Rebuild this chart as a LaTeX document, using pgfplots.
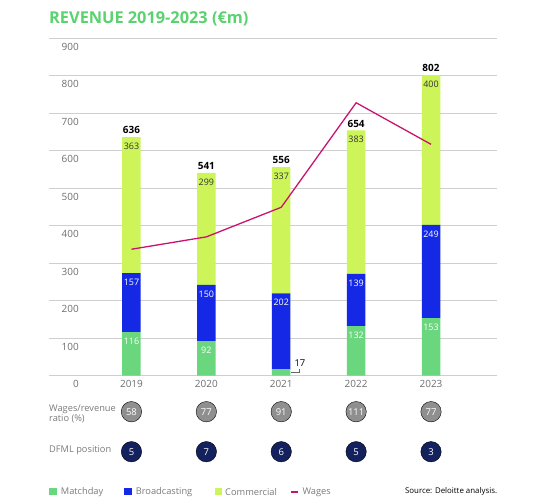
\documentclass[border=0pt]{standalone}
\usepackage{pgfplots}
\pgfplotsset{compat=1.18}
\usepackage{fontspec}
\setmainfont{Open Sans}
\definecolor{cMatch}{HTML}{6AD67E}
\definecolor{cBroad}{HTML}{1428E6}
\definecolor{cComm}{HTML}{CDF55A}
\definecolor{cWage}{HTML}{C8146E}
\definecolor{cTitle}{HTML}{5AD26E}
\definecolor{cGrid}{HTML}{CFCFCF}
\definecolor{cTick}{HTML}{6E6E6E}
\definecolor{cText}{HTML}{7A7A7A}
\definecolor{cCirc}{HTML}{8F8F8F}
\definecolor{cNavy}{HTML}{13215E}
\begin{document}
\begin{tikzpicture}
\path[use as bounding box] (0,0) rectangle (551bp,-500bp);
\pgfplotsset{
  base/.style={at={(49bp,-375.5bp)}, anchor=south west, scale only axis,
    width=448bp, height=337.2bp,
    xmin=-1.101, xmax=4.881, ymin=0, ymax=900, clip=false},
  seglab/.style={draw=none, mark=none, nodes near coords, point meta=explicit symbolic,
    every node near coord/.append style={anchor=center, yshift=-9bp, text=#1,
    font=\fontsize{9}{10}\selectfont}},
}
\begin{axis}[base, ybar stacked, bar width=18.5bp,
  xtick={0,1,2,3,4}, xticklabels={2019,2020,2021,2022,2023},
  ytick={0,100,...,900}, ymajorgrids, grid style={draw=cGrid, line width=0.9bp},
  axis line style={draw=none}, major tick length=0pt,
  /pgf/number format/assume math mode=true,
  tick label style={font=\fontsize{10}{12}\selectfont, text=cTick},
  yticklabel style={anchor=east, inner sep=0pt, xshift=30bp, yshift=-8.4bp},
  xticklabel style={anchor=north, inner sep=0pt, yshift=-4.2bp},
]
\addplot[fill=cMatch, draw=none]
  coordinates {(0,116) (1,92) (2,17) (3,132) (4,153)};
\addplot[fill=cBroad, draw=none]
  coordinates {(0,157) (1,150) (2,202) (3,139) (4,249)};
\addplot[fill=cComm, draw=none]
  coordinates {(0,363) (1,299) (2,337) (3,383) (4,400)};
\end{axis}
\begin{axis}[base, hide axis]
\addplot[cWage, line width=1.3bp, mark=none]
  coordinates {(0,337) (1,370) (2,449) (3,728) (4,617)};
% segment labels, at the top of each segment
\addplot[seglab=white]
  coordinates {(0,116)[116] (1,92)[92] (3,132)[132] (4,153)[153]};
\addplot[seglab=white]
  coordinates {(0,273)[157] (1,242)[150] (2,219)[202] (3,271)[139] (4,402)[249]};
\addplot[seglab=black!80]
  coordinates {(0,636)[363] (1,541)[299] (2,556)[337] (3,654)[383] (4,802)[400]};
% totals
\addplot[draw=none, mark=none, nodes near coords, point meta=explicit symbolic,
  every node near coord/.append style={anchor=center, yshift=7bp, text=black,
  font=\bfseries\fontsize{10}{12}\selectfont}]
  coordinates {(0,636)[636] (1,541)[541] (2,556)[556] (3,654)[654] (4,802)[802]};
\addplot[only marks, mark=*, mark size=10.2bp, mark options={fill=cCirc, draw=none},
  nodes near coords, point meta=explicit symbolic,
  every node near coord/.append style={anchor=center, text=white,
  font=\fontsize{9.5}{11}\selectfont}]
  coordinates {(0,-96.6)[58] (1,-96.6)[77] (2,-96.6)[91] (3,-96.6)[111] (4,-96.6)[77]};
\addplot[only marks, mark=*, mark size=10.2bp, mark options={fill=cNavy, draw=none},
  nodes near coords, point meta=explicit symbolic,
  every node near coord/.append style={anchor=center, text=white,
  font=\fontsize{9.5}{11}\selectfont}]
  coordinates {(0,-203.4)[5] (1,-203.4)[7] (2,-203.4)[6] (3,-203.4)[5] (4,-203.4)[3]};
\coordinate (c17) at (axis cs:2,17);
\end{axis}
\draw[black!60, line width=0.6bp] ([xshift=9.3bp,yshift=-3.6bp]c17) -- ++(8.7bp,0bp) -- ++(0bp,3.4bp);
\node[anchor=center, inner sep=0pt, font=\fontsize{9.5}{11}\selectfont, text=black]
  at ([xshift=18.7bp, yshift=5.8bp]c17) {17};
% title
\node[anchor=base west, inner sep=0pt, text=cTitle, font=\bfseries\fontsize{16.4}{20}\selectfont]
  at (49bp,-23.3bp) {REVENUE 2019-2023 (€m)};
% row labels
\node[anchor=west, inner sep=0pt, align=left, text=cText, font=\fontsize{9.3}{9.5}\selectfont]
  at (49bp,-413.7bp) {Wages/revenue\\ratio (\%)};
\node[anchor=west, inner sep=0pt, text=cText, font=\fontsize{9.3}{11}\selectfont]
  at (49bp,-450bp) {DFML position};
% legend
\fill[cMatch] (49.3bp,-488bp) rectangle ++(7.4bp,-7.4bp);
\node[anchor=west, inner sep=0pt, text=cText, font=\fontsize{9.3}{11}\selectfont] at (60.7bp,-491.8bp) {Matchday};
\fill[cBroad] (124.3bp,-488bp) rectangle ++(7.4bp,-7.4bp);
\node[anchor=west, inner sep=0pt, text=cText, font=\fontsize{9.3}{11}\selectfont] at (135.7bp,-491.8bp) {Broadcasting};
\fill[cComm] (215bp,-488bp) rectangle ++(7.4bp,-7.4bp);
\node[anchor=west, inner sep=0pt, text=cText, font=\fontsize{9.3}{11}\selectfont] at (225bp,-491.8bp) {Commercial};
\draw[cWage, line width=1.5bp] (290.7bp,-491.8bp) -- (298.3bp,-491.8bp);
\node[anchor=west, inner sep=0pt, text=cText, font=\fontsize{9.3}{11}\selectfont] at (302.3bp,-491.8bp) {Wages};
\node[anchor=east, inner sep=0pt, text=black, font=\fontsize{7.9}{10}\selectfont] at (497.3bp,-491.7bp) {Source: Deloitte analysis.};
\end{tikzpicture}
\end{document}
